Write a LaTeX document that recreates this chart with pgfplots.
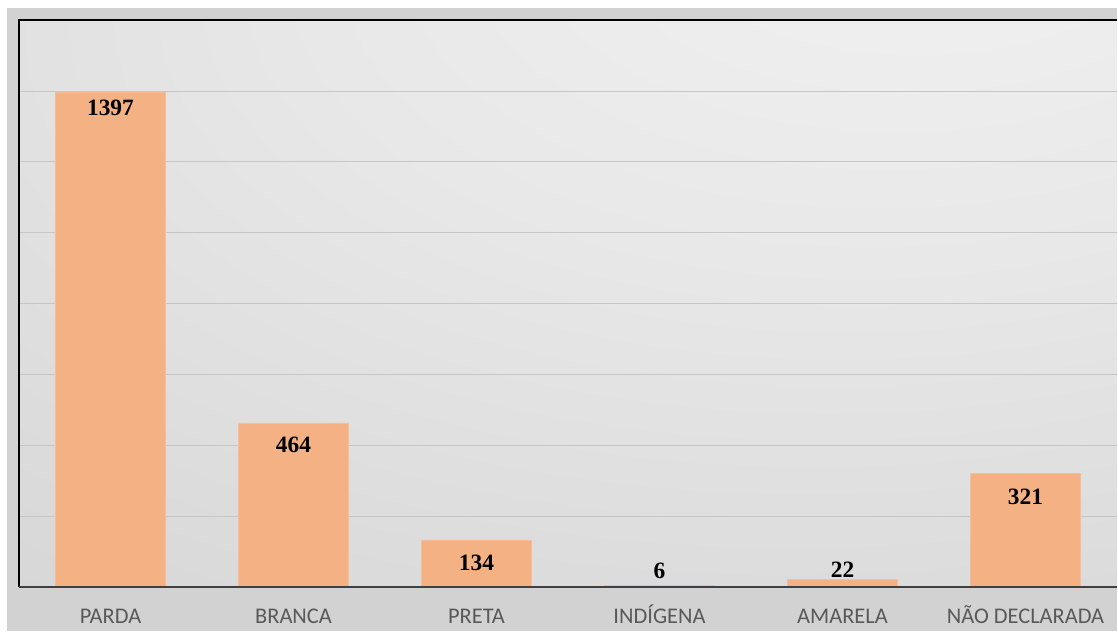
\documentclass[border=0pt]{standalone}
\usepackage{pgfplots}
\pgfplotsset{compat=1.18}
\usepackage{fontspec}
\setmainfont{Carlito}
\newfontfamily\tnr{Liberation Serif}
\definecolor{barc}{RGB}{244,177,131}
\definecolor{outerbg}{RGB}{210,210,210}
\definecolor{labc}{RGB}{89,89,89}
\pgfdeclareradialshading{plotbg}{\pgfpoint{18bp}{38bp}}{%
  color(0bp)=(white!95!black); color(25bp)=(white!91!black); color(60bp)=(white!83!black); color(80bp)=(white!79!black); color(100bp)=(white!77!black)}
\begin{document}
\begin{tikzpicture}
\fill[white] (0,0) rectangle (1118bp,-632bp);
\fill[outerbg] (7bp,-8bp) rectangle (1118bp,-632bp);
\begin{axis}[
  at={(19bp,-588bp)}, anchor=south west,
  scale only axis, width=1099bp, height=568bp,
  xmin=-0.5, xmax=5.5, ymin=0, ymax=1600,
  axis line style={draw=none},
  axis background/.style={shading=plotbg},
  xtick={0,1,2,3,4,5},
  xticklabels={PARDA,BRANCA,PRETA,INDÍGENA,AMARELA,NÃO DECLARADA},
  xticklabel style={font=\fontsize{22.5}{26}\selectfont, text=labc, text height=15bp, text depth=2bp, anchor=north, yshift=-18bp},
  ytick={200,400,...,1400}, yticklabels={},
  ymajorgrids, grid style={gray!45, line width=0.8bp},
  major tick length=0,
  clip=false,
]
\addplot[ybar, bar width=0.6, fill=barc, draw=barc!85!white, line width=0.5bp]
  coordinates {(0,1397) (1,464) (2,134) (3,6) (4,22) (5,321)};
\addplot[draw=none, mark=none, nodes near coords, point meta=explicit symbolic,
  nodes near coords align={center},
  every node near coord/.style={font=\tnr\bfseries\fontsize{23.5}{26}\selectfont, text=black}]
  coordinates {(0,1352)[1397] (1,403)[464] (2,70)[134] (3,48)[6] (4,51)[22] (5,256)[321]};
\draw[black, line width=2bp] (rel axis cs:0,0) -- (rel axis cs:0,1) -- (rel axis cs:1,1);
\draw[black!75, line width=2bp] (rel axis cs:0,0) -- (rel axis cs:1,0);
\end{axis}
\end{tikzpicture}
\end{document}
